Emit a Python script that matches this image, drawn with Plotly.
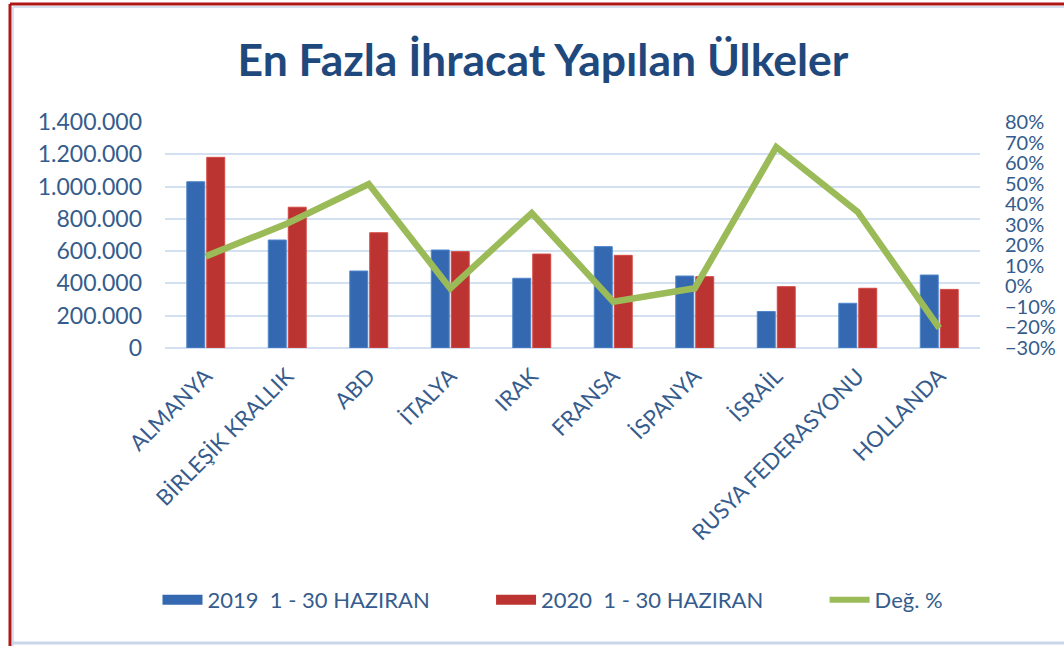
"""En Fazla İhracat Yapılan Ülkeler - grouped bars with change line."""

import plotly.graph_objects as go

countries = [
    "ALMANYA", "BİRLEŞİK KRALLIK", "ABD", "İTALYA", "IRAK",
    "FRANSA", "İSPANYA", "İSRAİL", "RUSYA FEDERASYONU", "HOLLANDA",
]
exports_2019 = [1030000, 669000, 477000, 607000, 432000, 628000, 446000, 226000, 277000, 452000]
exports_2020 = [1181000, 872000, 714000, 597000, 582000, 574000, 442000, 380000, 370000, 363000]
change_pct = [14.6, 30.6, 49.8, -1.0, 35.7, -7.5, -0.9, 67.8, 36.2, -20.3]

label_2019 = "2019  1 - 30 HAZIRAN"
label_2020 = "2020  1 - 30 HAZIRAN"
label_change = "Değ. %"

BLUE = "#3469B1"
RED = "#BC3431"
GREEN = "#9BBB59"
TEXT_BLUE = "#355C8C"
TITLE_BLUE = "#1F497D"
GRID = "#D3E0F1"
FONT = "Lato, 'Open Sans', sans-serif"

W, H = 1064, 646
# plot area in pixels: x 165..980, y 122..348
L, T = 165, 122
PW, PH = 815, 226
R, B = W - L - PW, H - T - PH


def px_x(x):
    return (x - L) / PW


def px_y(y):
    return (H - B - y) / PH


fig = go.Figure()

fig.add_trace(
    go.Bar(
        x=countries,
        y=exports_2019,
        name=label_2019,
        legendgroup="a",
        showlegend=False,
        marker={"color": BLUE, "line": {"color": "#4F86CC", "width": 1}},
    )
)
fig.add_trace(
    go.Bar(
        x=countries,
        y=exports_2020,
        name=label_2020,
        legendgroup="b",
        showlegend=False,
        marker={"color": RED, "line": {"color": "#D24A45", "width": 1}},
    )
)
fig.add_trace(
    go.Scatter(
        x=countries,
        y=change_pct,
        name=label_change,
        mode="lines",
        yaxis="y2",
        showlegend=False,
        legendgroup="c",
        line={"color": GREEN, "width": 6.5},
    )
)

# legend entries drawn as wide blocks like the original
gap = "\u00a0" * 10
for name, color, width, group in [
    (label_2019 + gap, BLUE, 15, "a"),
    (label_2020 + gap, RED, 15, "b"),
    (label_change, GREEN, 6, "c"),
]:
    fig.add_trace(
        go.Scatter(
            x=[None],
            y=[None],
            name=name,
            mode="lines",
            legendgroup=group,
            line={"color": color, "width": width},
            hoverinfo="skip",
        )
    )

# outer frame of the original chart object
shapes = [
    {"type": "line", "xref": "paper", "yref": "paper",
     "x0": px_x(10), "x1": px_x(10), "y0": px_y(4), "y1": px_y(650),
     "line": {"color": "#B01717", "width": 3}},
    {"type": "line", "xref": "paper", "yref": "paper",
     "x0": px_x(10), "x1": px_x(1070), "y0": px_y(4), "y1": px_y(4),
     "line": {"color": "#B01717", "width": 3}},
    {"type": "line", "xref": "paper", "yref": "paper",
     "x0": px_x(13), "x1": px_x(1070), "y0": px_y(7), "y1": px_y(7),
     "line": {"color": "#D6E0F0", "width": 2}},
    {"type": "line", "xref": "paper", "yref": "paper",
     "x0": px_x(13), "x1": px_x(13), "y0": px_y(7), "y1": px_y(650),
     "line": {"color": "#D6E0F0", "width": 2}},
    {"type": "line", "xref": "paper", "yref": "paper",
     "x0": px_x(12), "x1": px_x(1070), "y0": px_y(643), "y1": px_y(643),
     "line": {"color": "#C9D6E8", "width": 3}},
]

fig.update_layout(
    width=W,
    height=H,
    separators=",.",
    paper_bgcolor="white",
    plot_bgcolor="white",
    margin={"l": L, "r": R, "t": T, "b": B, "autoexpand": False},
    font={"family": FONT, "color": TEXT_BLUE},
    title={
        "text": "<b>En Fazla İhracat Yapılan Ülkeler</b>",
        "x": 543 / W,
        "xanchor": "center",
        "y": 1 - 60 / H,
        "yanchor": "middle",
        "font": {"family": FONT, "size": 44.5, "color": TITLE_BLUE},
    },
    barmode="group",
    bargap=0.51,
    bargroupgap=0.1,
    showlegend=True,
    legend={
        "orientation": "h",
        "x": px_x(553),
        "xanchor": "center",
        "y": px_y(600),
        "yanchor": "middle",
        "font": {"family": FONT, "size": 22, "color": TEXT_BLUE},
        "itemwidth": 40,
        "tracegroupgap": 0,
        "traceorder": "normal",
    },
    xaxis={
        "tickangle": -45,
        "tickfont": {"size": 22, "color": TEXT_BLUE},
        "showgrid": False,
        "showline": False,
        "ticks": "",
        "ticklabelstandoff": 10,
    },
    yaxis={
        "range": [0, 1400000],
        "dtick": 200000,
        "tickformat": ",d",
        "tickfont": {"size": 23, "color": TEXT_BLUE},
        "showgrid": True,
        "gridcolor": GRID,
        "gridwidth": 2,
        "zeroline": True,
        "zerolinecolor": GRID,
        "zerolinewidth": 2,
        "ticklabelstandoff": 22,
    },
    yaxis2={
        "overlaying": "y",
        "side": "right",
        "range": [-30, 80],
        "dtick": 10,
        "ticksuffix": "%",
        "tickfont": {"size": 20, "color": TEXT_BLUE},
        "showgrid": False,
        "zeroline": False,
        "ticklabelstandoff": 24,
    },
    shapes=shapes,
)

# drop the page's default body margin so the figure sits at the window corner
fig.write_html(
    "out.html",
    config={"displayModeBar": False},
    post_script="document.body.style.margin='0';document.body.style.overflow='hidden';",
)
